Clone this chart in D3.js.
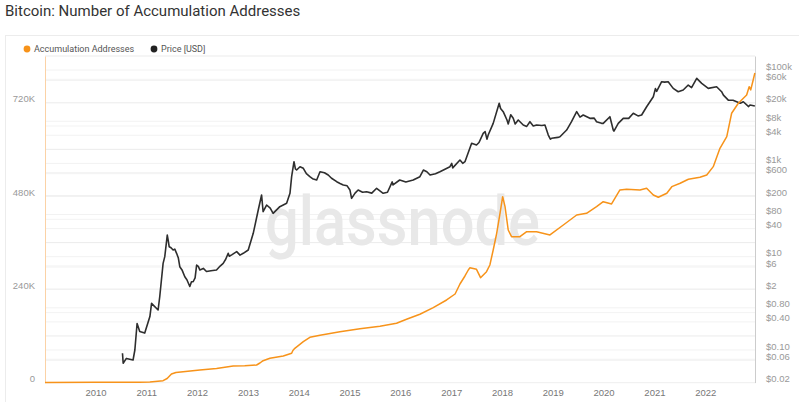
<!DOCTYPE html>
<html lang="en">
<head>
<meta charset="utf-8">
<title>Bitcoin: Number of Accumulation Addresses</title>
<script src="https://d3js.org/d3.v7.min.js"></script>
<style>
  body { margin: 0; background: #fff; }
  svg { font-family: Roboto, "Liberation Sans", sans-serif; }
  .tick text { font-size: 9.5px; }
</style>
</head>
<body>
<script>
// Data

const accDates = ["2009-01-03","2010-01-01","2010-11-15","2011-01-27","2011-05-02","2011-05-31","2011-07-01","2011-08-02","2011-09-23","2012-01-21","2012-05-20","2012-08-24","2012-09-17","2012-12-09","2013-03-04","2013-03-28","2013-04-20","2013-06-08","2013-09-12","2013-11-11","2013-11-20","2013-12-04","2014-02-03","2014-03-22","2014-06-03","2014-10-24","2015-03-17","2015-08-08","2015-12-05","2016-02-15","2016-05-21","2016-08-25","2016-11-29","2017-01-29","2017-03-05","2017-04-10","2017-05-04","2017-05-16","2017-07-02","2017-07-31","2017-09-12","2017-10-06","2017-10-30","2017-11-24","2017-12-18","2018-01-06","2018-01-23","2018-02-15","2018-03-11","2018-05-10","2018-06-28","2018-09-07","2018-12-12","2019-03-18","2019-06-22","2019-09-01","2019-11-12","2019-12-30","2020-02-28","2020-04-28","2020-06-15","2020-09-19","2020-11-06","2020-12-24","2021-01-29","2021-03-31","2021-05-06","2021-07-05","2021-09-02","2021-11-24","2022-01-12","2022-02-28","2022-04-17","2022-06-05","2022-07-10","2022-08-27","2022-10-26","2022-11-13","2022-11-24","2022-12-12","2022-12-24"];
const accValues = [500,800,800,1500,4900,10500,22100,26000,28000,32400,36300,41400,42700,43200,45300,50400,56300,62500,68400,75400,82600,88200,105200,116500,121700,130900,138600,144800,152500,162800,175700,192700,212500,227900,253600,274200,289600,295600,291400,269800,285300,302500,341100,384000,435500,478200,452500,392500,375300,375300,388200,388200,379700,405400,431100,435500,452500,465300,459400,495400,497200,495400,499800,482600,476600,486900,503900,512700,523000,528100,534000,555400,602700,632500,692700,718400,739800,761100,752700,778400,796400];

const priceDates = ["2010-07-14","2010-07-19","2010-08-11","2010-09-28","2010-10-11","2010-10-27","2010-11-15","2010-12-21","2011-01-27","2011-02-08","2011-03-27","2011-04-08","2011-05-02","2011-05-14","2011-06-01","2011-06-08","2011-06-15","2011-06-28","2011-07-13","2011-07-25","2011-08-07","2011-08-19","2011-08-30","2011-09-15","2011-10-05","2011-10-20","2011-11-10","2011-11-22","2011-12-04","2011-12-18","2011-12-29","2012-01-10","2012-01-21","2012-02-15","2012-03-09","2012-04-10","2012-05-20","2012-06-15","2012-07-07","2012-07-25","2012-08-12","2012-08-20","2012-09-06","2012-10-12","2012-11-05","2012-11-28","2013-01-03","2013-02-08","2013-03-16","2013-04-09","2013-04-20","2013-05-15","2013-06-10","2013-07-01","2013-08-18","2013-10-06","2013-10-30","2013-11-11","2013-11-28","2013-12-08","2013-12-17","2014-01-10","2014-02-03","2014-02-25","2014-03-22","2014-04-10","2014-05-10","2014-06-03","2014-07-05","2014-08-01","2014-08-25","2014-10-01","2014-10-25","2014-11-17","2014-12-15","2015-01-04","2015-01-16","2015-02-10","2015-03-04","2015-04-05","2015-05-04","2015-06-10","2015-07-15","2015-08-31","2015-10-01","2015-11-04","2015-11-10","2015-12-28","2016-02-10","2016-04-03","2016-05-21","2016-06-15","2016-07-10","2016-08-02","2016-09-10","2016-10-12","2016-12-23","2017-01-05","2017-01-12","2017-03-05","2017-03-25","2017-04-10","2017-05-28","2017-07-02","2017-07-20","2017-08-19","2017-09-02","2017-09-15","2017-09-24","2017-10-30","2017-12-12","2017-12-22","2018-01-10","2018-02-06","2018-02-15","2018-03-05","2018-03-23","2018-04-06","2018-04-28","2018-06-03","2018-06-28","2018-07-21","2018-08-14","2018-09-07","2018-10-15","2018-11-06","2018-11-30","2018-12-15","2018-12-24","2019-02-07","2019-02-22","2019-04-11","2019-05-16","2019-06-22","2019-07-16","2019-08-08","2019-09-25","2019-10-26","2019-11-12","2019-12-18","2019-12-30","2020-02-16","2020-03-11","2020-03-16","2020-04-16","2020-05-22","2020-06-30","2020-08-02","2020-09-05","2020-10-01","2020-11-06","2020-12-24","2021-01-08","2021-01-17","2021-02-22","2021-03-15","2021-04-10","2021-05-16","2021-06-21","2021-07-27","2021-09-01","2021-09-25","2021-11-01","2021-12-07","2022-01-23","2022-03-24","2022-04-29","2022-05-12","2022-06-16","2022-07-20","2022-08-15","2022-09-10","2022-10-02","2022-11-09","2022-11-19","2022-12-24"];
const priceValues = [0.085,0.052,0.066,0.061,0.10,0.37,0.25,0.23,0.52,1.0,0.72,1.4,7.2,10,29,22,16.3,15.5,13.9,14.5,11.8,9.5,6.1,5.2,3.7,3.2,2.3,2.9,2.9,3.5,6.6,6.2,5.2,5.6,4.8,5.0,5.2,6.3,7.2,8.8,11.8,10.2,10.9,12.8,10.8,11.8,13.9,31.7,100,210,92,128,110,85,118,139,228,518,1085,760,720,847,783,600,518,470,440,662,630,562,480,405,370,344,330,269,178,230,269,240,247,230,292,228,240,400,344,440,400,440,518,720,660,562,600,662,847,1000,800,1180,1000,1085,2690,2475,2800,4400,4800,3300,4050,7200,19350,15000,12800,8500,7000,11000,9230,7000,8500,6630,6200,7810,6300,6630,6500,6630,4050,3300,3440,3600,3720,5180,7810,12800,9800,10870,9230,9300,7810,7200,7200,10000,5180,4900,7200,9230,9200,11830,10400,10870,16370,26800,40000,35000,56200,55000,56200,40500,34300,37300,47700,42000,66500,51900,40500,43900,34300,29000,22700,22500,20900,19500,20900,16500,17800,17000];

const accTicks = [0, 240000, 480000, 720000];
const accTickLabels = ["0", "240K", "480K", "720K"];
const priceTicks = [100000, 60000, 20000, 8000, 4000, 1000, 600, 200, 80, 40, 10, 6, 2, 0.8, 0.4, 0.1, 0.06, 0.02];
const priceTickLabels = ["$100k","$60k","$20k","$8k","$4k","$1k","$600","$200","$80","$40","$10","$6","$2","$0.80","$0.40","$0.10","$0.06","$0.02"];
const years = [2010,2011,2012,2013,2014,2015,2016,2017,2018,2019,2020,2021,2022];

// layout
const w = 799, h = 402;
const plotLeft = 45, plotRight = 755, plotTop = 56, plotBottom = 382.6;

const parse = d3.timeParse("%Y-%m-%d");
const accData = accDates.map((d, i) => ({ date: parse(d), v: accValues[i] }));
const priceData = priceDates.map((d, i) => ({ date: parse(d), v: priceValues[i] }));

const x = d3.scaleTime()
    .domain([parse("2009-01-03"), parse("2022-12-25")])
    .range([plotLeft, plotRight]);

const yAcc = d3.scaleLinear()
    .domain([0, 840000])
    .range([plotBottom, plotTop]);

const yPrice = d3.scaleLog()
    .domain([0.02, 200000])
    .range([plotBottom, plotTop]);

const svg = d3.select("body").append("svg")
    .attr("width", w)
    .attr("height", h);

// title
svg.append("text")
    .attr("x", 5)
    .attr("y", 16)
    .attr("font-size", "15px")
    .attr("fill", "#333")
    .text("Bitcoin: Number of Accumulation Addresses");

// panel border
svg.append("rect")
    .attr("x", 5.5).attr("y", 35.5)
    .attr("width", 900).attr("height", 500)
    .attr("fill", "none")
    .attr("stroke", "#ececec");

// legend
const legend = [
    { label: "Accumulation Addresses", color: "#f7931a", x: 27 },
    { label: "Price [USD]", color: "#222", x: 154 }
];
legend.forEach(l => {
    svg.append("circle").attr("cx", l.x).attr("cy", 49).attr("r", 3.4).attr("fill", l.color);
    svg.append("text").attr("x", l.x + 7).attr("y", 49).attr("dy", "0.35em")
        .attr("font-size", "9px").attr("fill", "#555").text(l.label);
});

// gridlines (left axis every 60K, price ticks)
const accGrid = d3.range(0, 840001, 60000);
svg.append("g").selectAll("line")
    .data(accGrid)
    .enter().append("line")
    .attr("x1", plotLeft).attr("x2", plotRight)
    .attr("y1", d => yAcc(d)).attr("y2", d => yAcc(d))
    .attr("stroke", d => d % 240000 === 0 ? "#e4e4e4" : (d % 120000 === 0 ? "#ebebeb" : "#f3f3f3"))
    .attr("stroke-width", 1);

svg.append("g").selectAll("line")
    .data(priceTicks)
    .enter().append("line")
    .attr("x1", plotLeft).attr("x2", plotRight)
    .attr("y1", d => yPrice(d)).attr("y2", d => yPrice(d))
    .attr("stroke", "#f2f2f2")
    .attr("stroke-width", 1);

// watermark
svg.append("text")
    .attr("x", 265)
    .attr("y", 245)
    .attr("font-size", "68px")
    .attr("font-weight", 500)
    .attr("fill", "#e8e8e8")
    .attr("textLength", 275)
    .attr("lengthAdjust", "spacingAndGlyphs")
    .text("glassnode");

// axes
const accAxis = d3.axisLeft(yAcc)
    .tickValues(accTicks)
    .tickFormat((d, i) => accTickLabels[i])
    .tickSize(0)
    .tickPadding(10);

const gl = svg.append("g")
    .attr("transform", "translate(" + plotLeft + ",0)")
    .call(accAxis);
gl.select(".domain").attr("stroke", "#fbd2a6");
gl.selectAll("text").attr("y", -4).attr("fill", "#999");

const priceAxis = d3.axisRight(yPrice)
    .tickValues(priceTicks)
    .tickFormat((d, i) => priceTickLabels[i])
    .tickSize(0)
    .tickPadding(11);

const gr = svg.append("g")
    .attr("transform", "translate(" + plotRight + ",0)")
    .call(priceAxis);
gr.select(".domain").attr("stroke", "#cccccc");
gr.selectAll("text").attr("y", -4).attr("fill", "#999");

const xAxis = d3.axisBottom(x)
    .tickValues(years.map(y => new Date(y, 0, 1)))
    .tickFormat(d3.timeFormat("%Y"))
    .tickSize(0)
    .tickPadding(7);

const gb = svg.append("g")
    .attr("transform", "translate(0," + plotBottom + ")")
    .call(xAxis);
gb.select(".domain").remove();
gb.selectAll("text").attr("fill", "#777");

// lines
svg.append("path")
    .datum(priceData)
    .attr("fill", "none")
    .attr("stroke", "#2e2e2e")
    .attr("stroke-width", 1.6)
    .attr("stroke-linejoin", "round")
    .attr("d", d3.line().x(d => x(d.date)).y(d => yPrice(d.v)));

svg.append("path")
    .datum(accData)
    .attr("fill", "none")
    .attr("stroke", "#f7931a")
    .attr("stroke-width", 1.5)
    .attr("stroke-linejoin", "round")
    .attr("d", d3.line().x(d => x(d.date)).y(d => yAcc(d.v)));
</script>
</body>
</html>
